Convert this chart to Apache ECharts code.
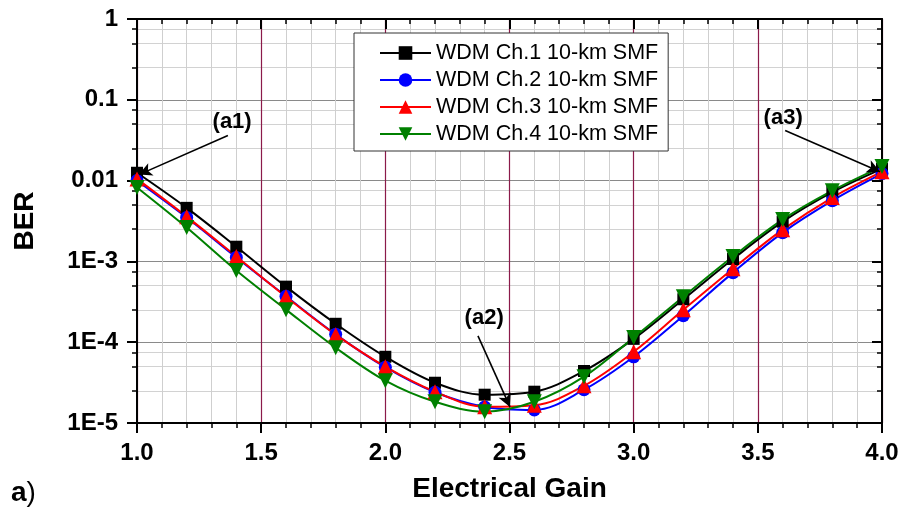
<!DOCTYPE html>
<html>
<head>
<meta charset="utf-8">
<script src="https://cdn.jsdelivr.net/npm/echarts@6/dist/echarts.min.js"></script>
<style>
html,body{margin:0;padding:0;background:#fff;}
#chart{width:904px;height:510px;}
</style>
</head>
<body>
<div id="chart"></div>
<script>
// ---- data ----
const gain = [1.0, 1.2, 1.4, 1.6, 1.8, 2.0, 2.2, 2.4, 2.6, 2.8, 3.0, 3.2, 3.4, 3.6, 3.8, 4.0];
const berCh1 = [0.0125, 0.0046, 0.00152, 0.000487, 0.000169, 0.000066, 0.0000315, 0.0000224, 0.0000244, 0.000044, 0.000110, 0.00034, 0.00107, 0.0031, 0.0072, 0.0140];
const berCh2 = [0.0100, 0.0035, 0.00112, 0.00037, 0.000125, 0.000049, 0.000024, 0.0000158, 0.0000145, 0.0000258, 0.000066, 0.000213, 0.000726, 0.00227, 0.00565, 0.0122];
const berCh3 = [0.0105, 0.00358, 0.00115, 0.000366, 0.000124, 0.0000498, 0.0000244, 0.0000159, 0.0000166, 0.0000289, 0.000076, 0.000252, 0.000813, 0.00247, 0.00616, 0.0129];
const berCh4 = [0.0082, 0.00262, 0.00077, 0.000253, 0.0000855, 0.0000334, 0.0000183, 0.0000138, 0.0000183, 0.0000374, 0.000114, 0.000366, 0.00115, 0.00329, 0.0075, 0.0149];
const seriesNames = ['WDM Ch.1 10-km SMF', 'WDM Ch.2 10-km SMF', 'WDM Ch.3 10-km SMF', 'WDM Ch.4 10-km SMF'];
const yTickLabels = {'-5': '1E-5', '-4': '1E-4', '-3': '1E-3', '-2': '0.01', '-1': '0.1', '0': '1'};
const xTickLabels = ['1.0', '1.5', '2.0', '2.5', '3.0', '3.5', '4.0'];
const minorFactors = [2.5, 5, 7.5];
// annotations: [x, BER] for label and arrow start/end
const annotations = [
  {text: '(a1)', label: [1.383, 0.0538], from: [1.366, 0.0361], to: [1.008, 0.01186]},
  {text: '(a2)', label: [2.398, 0.000201], from: [2.373, 0.000120], to: [2.502, 0.0000158]},
  {text: '(a3)', label: [3.602, 0.0603], from: [3.61, 0.0417], to: [3.992, 0.0129]}
];

// ---- build ----
const FONT = '"Liberation Sans", Arial, sans-serif';
const lg = v => Math.log10(v);
const minorVals = [];
for (let n = -5; n < 0; n++) minorFactors.forEach(f => minorVals.push(n + Math.log10(f)));

const chart = echarts.init(document.getElementById('chart'), null, {renderer: 'canvas'});

function mkSeries(name, arr, color, symbol, size, rotate, extra) {
  return Object.assign({
    name: name,
    type: 'line',
    xAxisIndex: 0,
    yAxisIndex: 0,
    data: gain.map((x, i) => [x, lg(arr[i])]),
    smooth: 0.35,
    symbol: symbol,
    symbolSize: size,
    symbolRotate: rotate,
    showAllSymbol: true,
    lineStyle: {color: color, width: 2},
    itemStyle: {color: color},
    emphasis: {disabled: true},
    z: 3
  }, extra || {});
}

const annoExtra = {
  markLine: {
    silent: true,
    symbol: ['none', 'arrow'],
    symbolSize: [10, 13],
    lineStyle: {color: '#000', width: 1.6, type: 'solid'},
    label: {show: false},
    data: annotations.map(a => [{coord: [a.from[0], lg(a.from[1])]}, {coord: [a.to[0], lg(a.to[1])]}])
  },
  markPoint: {
    silent: true,
    symbol: 'circle',
    symbolSize: 1,
    itemStyle: {color: 'rgba(0,0,0,0)'},
    label: {show: true, position: 'inside', color: '#000', fontSize: 22, fontWeight: 'bold', fontFamily: FONT},
    data: annotations.map(a => ({coord: [a.label[0], lg(a.label[1])], label: {formatter: a.text}}))
  }
};

const xBase = {
  type: 'value', min: 1, max: 4, interval: 0.5,
  axisLine: {onZero: false, lineStyle: {color: '#000', width: 2}},
};

const option = {
  animation: false,
  backgroundColor: '#fff',
  grid: {left: 137, right: 22, top: 19, bottom: 87, containLabel: false, outerBoundsMode: 'none'},
  title: {
    text: '{a|a}{p|)}',
    left: 6, top: 474,
    textStyle: {rich: {
      a: {fontSize: 28, fontWeight: 'bold', fontFamily: FONT, color: '#000'},
      p: {fontSize: 28, fontWeight: 'normal', fontFamily: FONT, color: '#000'}
    }}
  },
  legend: {
    orient: 'vertical',
    left: 354, top: 33,
    padding: [9, 10, 6, 25],
    itemWidth: 51, itemHeight: 17, itemGap: 5,
    backgroundColor: '#fff',
    borderColor: '#333', borderWidth: 1,
    textStyle: {fontSize: 21.5, fontFamily: FONT, color: '#000', lineHeight: 21.5},
    data: seriesNames
  },
  xAxis: [
    Object.assign({}, xBase, {
      position: 'bottom',
      name: 'Electrical Gain', nameLocation: 'middle', nameGap: 52,
      nameTextStyle: {fontSize: 28, fontWeight: 'bold', fontFamily: FONT, color: '#000'},
      axisTick: {show: true, inside: false, length: 10, lineStyle: {color: '#000', width: 2}},
      minorTick: {show: true, splitNumber: 5, length: 5, lineStyle: {color: '#000', width: 1.5}},
      axisLabel: {show: true, margin: 18, fontSize: 24, fontWeight: 'bold', fontFamily: FONT, color: '#000',
        formatter: v => xTickLabels[Math.round((v - 1) / 0.5)]},
      splitLine: {show: true, lineStyle: {color: '#8b1a4a', width: 1.2}},
      minorSplitLine: {show: true, lineStyle: {color: '#cfcfcf', width: 1}},
      z: 2
    }),
    Object.assign({}, xBase, {
      position: 'top',
      axisTick: {show: true, inside: true, length: 10, lineStyle: {color: '#000', width: 2}},
      minorTick: {show: true, splitNumber: 5, length: 5, lineStyle: {color: '#000', width: 1.5}},
      axisLabel: {show: false},
      splitLine: {show: false},
      z: 2
    })
  ],
  yAxis: [
    {
      type: 'value', position: 'left', offset: 0, min: -5, max: 0, interval: 1,
      name: 'BER', nameLocation: 'middle', nameGap: 98, nameRotate: 90,
      nameTextStyle: {fontSize: 28, fontWeight: 'bold', fontFamily: FONT, color: '#000'},
      axisLine: {show: true, onZero: false, lineStyle: {color: '#000', width: 2}},
      axisTick: {show: true, inside: false, length: 10, lineStyle: {color: '#000', width: 2}},
      axisLabel: {show: true, margin: 19, fontSize: 24, fontWeight: 'bold', fontFamily: FONT, color: '#000',
        formatter: v => yTickLabels[String(Math.round(v))]},
      splitLine: {show: true, lineStyle: {color: '#8a8a8a', width: 1}},
      z: 2
    },
    {
      type: 'value', position: 'left', offset: 0, min: -5, max: 0,
      axisLine: {show: false, onZero: false},
      axisTick: {show: true, inside: false, length: 5, customValues: minorVals, lineStyle: {color: '#000', width: 1.5}},
      axisLabel: {show: false, customValues: minorVals},
      splitLine: {show: true, lineStyle: {color: '#d2d2d2', width: 1}},
      z: 1
    },
    {
      type: 'value', position: 'right', offset: 0, min: -5, max: 0, interval: 1,
      axisLine: {show: true, onZero: false, lineStyle: {color: '#000', width: 2}},
      axisTick: {show: true, inside: true, length: 10, lineStyle: {color: '#000', width: 2}},
      axisLabel: {show: false},
      splitLine: {show: false},
      z: 2
    },
    {
      type: 'value', position: 'right', offset: 0, min: -5, max: 0,
      axisLine: {show: false, onZero: false},
      axisTick: {show: true, inside: true, length: 5, customValues: minorVals, lineStyle: {color: '#000', width: 1.5}},
      axisLabel: {show: false, customValues: minorVals},
      splitLine: {show: false},
      z: 2
    }
  ],
  series: [
    mkSeries(seriesNames[0], berCh1, '#000000', 'rect', 12, 0, annoExtra),
    mkSeries(seriesNames[1], berCh2, '#0000ff', 'circle', 13, 0),
    mkSeries(seriesNames[2], berCh3, '#ff0000', 'triangle', 15, 0),
    mkSeries(seriesNames[3], berCh4, '#008000', 'triangle', 15, 180)
  ]
};
chart.setOption(option);
</script>
</body>
</html>
